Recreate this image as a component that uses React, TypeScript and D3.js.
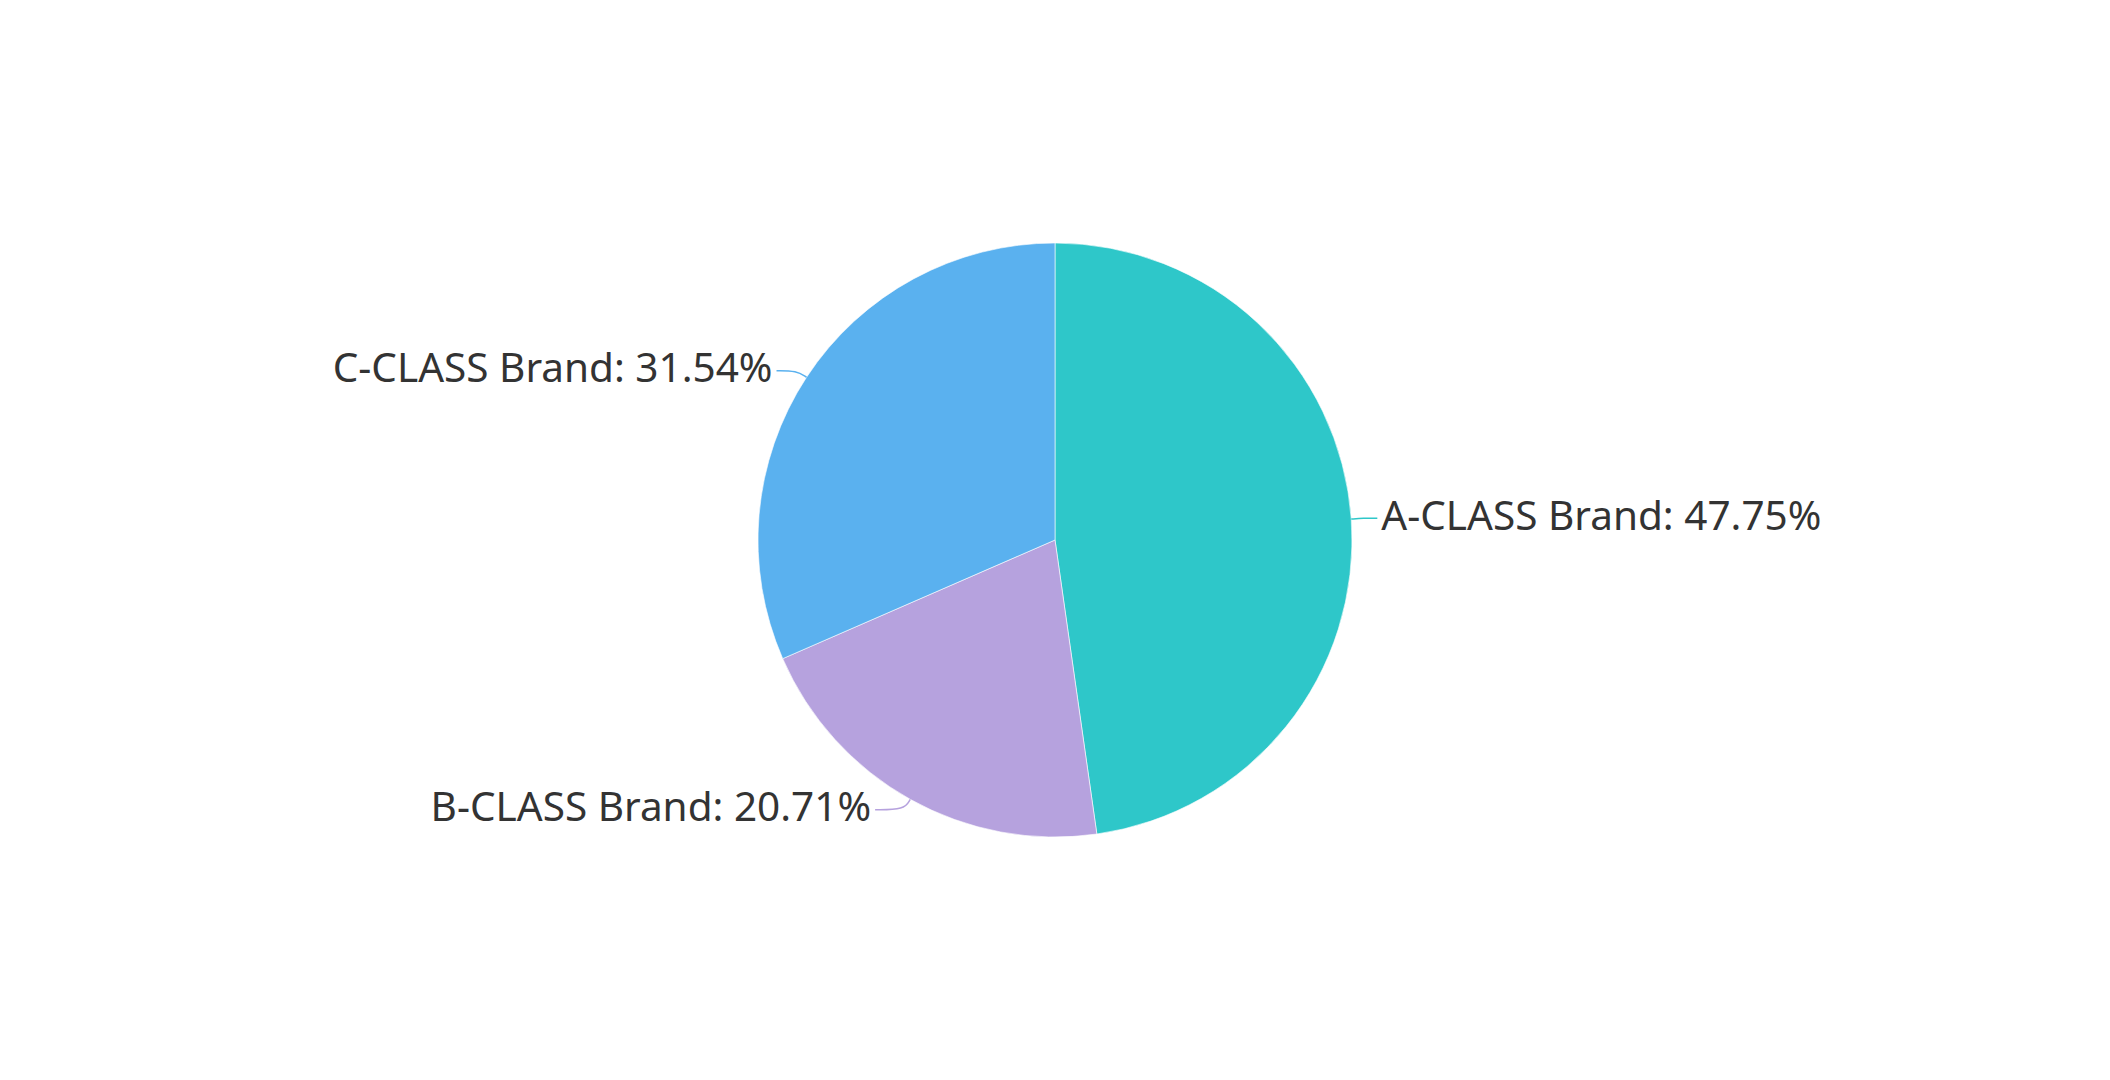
import { useEffect, useRef } from "react";
import * as d3 from "d3";

// pie data
const brands = ["A-CLASS Brand", "B-CLASS Brand", "C-CLASS Brand"];
const shares = [47.75, 20.71, 31.54];
const colors = ["#2ec7c9", "#b6a2de", "#5ab1ef"];

export default function App() {
    const svgRef = useRef<SVGSVGElement>(null);

    useEffect(() => {
        const w = 2110;
        const h = 1080;
        const r = 297;
        const len1 = 12;

        const svg = d3.select(svgRef.current).attr("width", w).attr("height", h);
        svg.selectAll("*").remove();

        const g = svg.append("g").attr("transform", `translate(${w / 2},${h / 2})`);

        const data = brands.map((name, i) => ({ name, value: shares[i], color: colors[i] }));
        const pie = d3.pie<any>().sort(null).value((d) => d.value);
        const arc = d3.arc<any>().innerRadius(0).outerRadius(r);
        const arcs = pie(data);

        g.selectAll("path.slice")
            .data(arcs)
            .join("path")
            .attr("class", "slice")
            .attr("d", arc)
            .attr("fill", (d) => d.data.color)
            .attr("stroke", "#fff")
            .attr("stroke-width", 0.6);

        const curve = d3.line().curve(d3.curveBasis);

        arcs.forEach((d) => {
            const mid = (d.startAngle + d.endAngle) / 2;
            const sx = Math.sin(mid);
            const sy = -Math.cos(mid);
            // horizontal leg grows a bit for labels nearer the top/bottom
            const len2 = 14 + 20 * sy * sy;
            const p0: [number, number] = [r * sx, r * sy];
            const p1: [number, number] = [(r + len1) * sx, (r + len1) * sy];
            const right = sx >= 0;
            const p2: [number, number] = [p1[0] + (right ? len2 : -len2), p1[1]];

            g.append("path")
                .attr("d", curve([p0, p1, p2]))
                .attr("fill", "none")
                .attr("stroke", d.data.color)
                .attr("stroke-width", 1.5);

            g.append("text")
                .attr("x", p2[0] + (right ? 4 : -4))
                .attr("y", p2[1])
                .attr("dy", "0.28em")
                .attr("text-anchor", right ? "start" : "end")
                .attr("font-family", "'Noto Sans', 'Open Sans', sans-serif")
                .attr("font-size", 40.5)
                .attr("fill", "#333")
                .text(`${d.data.name}: ${d.data.value.toFixed(2)}%`);
        });
    }, []);

    return (
        <svg
            ref={svgRef}
            style={{ position: "absolute", left: 0, top: 0, display: "block", background: "#fff" }}
        ></svg>
    );
}
